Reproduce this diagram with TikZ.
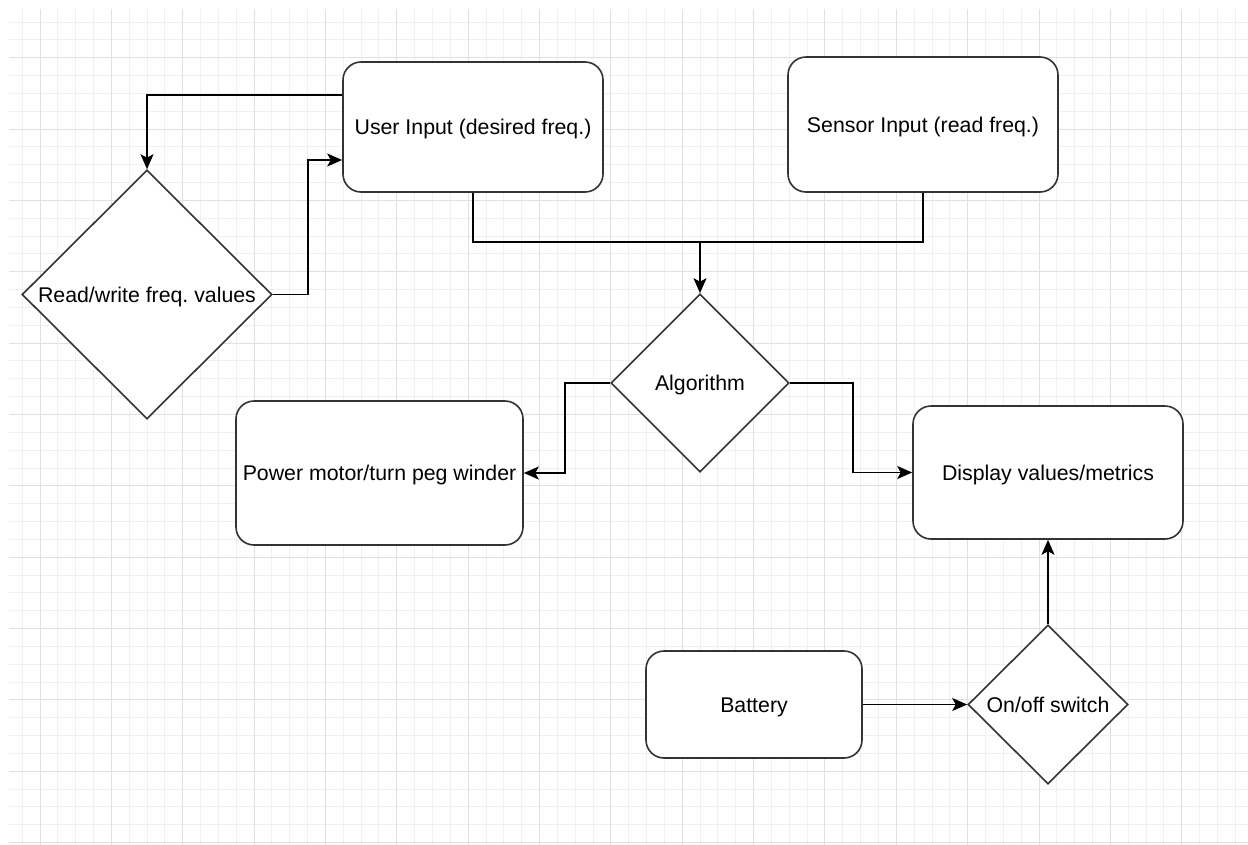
\documentclass[tikz,border=0pt]{standalone}
\usepackage{fontspec}
\setmainfont{Liberation Sans}
\usetikzlibrary{shapes.geometric,arrows.meta}
\definecolor{boxc}{HTML}{333333}
\definecolor{gmajc}{HTML}{E0E0E0}
\definecolor{gminc}{HTML}{F0F0F0}
\newcommand\lblfont{\fontsize{21.3}{25}\selectfont}
\newcommand\lbltext[1]{\makebox[0pt]{\raisebox{-7.7pt}[0pt][0pt]{#1}}}
\frenchspacing
\tikzset{
  box/.style={draw=boxc, line width=1.6pt, rounded corners=18pt, fill=white, font=\lblfont, inner sep=0pt},
  dia/.style={draw=boxc, line width=1.6pt, diamond, fill=white, inner sep=0pt, font=\lblfont},
  wire/.style={draw=black, line width=1.5pt},
  conn/.style={wire, -{Stealth[length=15pt,width=13pt,inset=3.5pt]}},
  gmaj/.style={draw=gmajc, line width=1pt},
  gmin/.style={draw=gminc, line width=1pt}
}
\begin{document}
\begin{tikzpicture}[x=1pt,y=-1pt]
\useasboundingbox (0,0) rectangle (1248,844);
\fill[white] (0,0) rectangle (1248,844);
% grid
\begin{scope}
\clip (9,9) rectangle (1248,844);
\foreach \i in {-1,...,68}{
  \pgfmathsetmacro\gx{40+17.84*\i}
  \draw[gmin] (\gx,0) -- (\gx,850);
}
\foreach \j in {-2,...,44}{
  \pgfmathsetmacro\gy{57.7+17.84*\j}
  \draw[gmin] (0,\gy) -- (1250,\gy);
}
\foreach \i in {0,4,...,68}{
  \pgfmathsetmacro\gx{40+17.84*\i}
  \draw[gmaj] (\gx,0) -- (\gx,850);
}
\foreach \j in {0,4,...,44}{
  \pgfmathsetmacro\gy{57.7+17.84*\j}
  \draw[gmaj] (0,\gy) -- (1250,\gy);
}
\end{scope}
% nodes
\node[box, minimum width=260pt, minimum height=130pt] (ui) at (473,127) {\lbltext{User Input (desired freq.)}};
\node[box, minimum width=270pt, minimum height=135pt] (si) at (923,124.5) {\lbltext{Sensor Input (read freq.)}};
\node[box, minimum width=287pt, minimum height=144pt] (pm) at (379.5,473) {\lbltext{Power motor/turn peg winder}};
\node[box, minimum width=270pt, minimum height=133pt] (disp) at (1048,472.5) {\lbltext{Display values/metrics}};
\node[box, minimum width=216pt, minimum height=107pt] (bat) at (754,704.5) {\lbltext{Battery}};
\node[dia, minimum width=250pt, minimum height=249pt] (rw) at (147,294.5) {\lbltext{Read/write freq. values}};
\node[dia, minimum width=178pt, minimum height=178pt] (alg) at (700,383) {\lbltext{Algorithm}};
\node[dia, minimum width=160pt, minimum height=159pt] (sw) at (1048,704.5) {\lbltext{On/off switch}};
\coordinate (j) at (700,242);
% connectors
\draw[conn] ([yshift=32pt]ui.west) -| (rw.north);
\draw[conn] (rw.east) -- ++(35,0) |- ([yshift=-33pt]ui.west);
\draw[wire] (ui.south) |- (j);
\draw[wire] (si.south) |- (j);
\draw[conn] (j) -- (alg.north);
\draw[conn] (alg.west) -- ++(-45,0) |- (pm.east);
\draw[conn] (alg.east) -- ++(63,0) |- (disp.west);
\draw[conn] (bat.east) -- (sw.west);
\draw[conn] (sw.north) -- (disp.south);
\end{tikzpicture}
\end{document}
